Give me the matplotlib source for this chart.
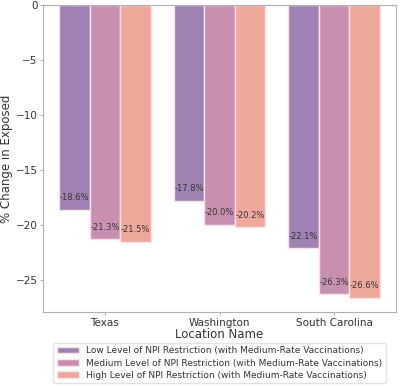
import matplotlib
matplotlib.use('Agg')
import matplotlib.pyplot as plt
import numpy as np

locations = ['Texas', 'Washington', 'South Carolina']
scenarios = ['Low Level of NPI Restriction (with Medium-Rate Vaccinations)',
             'Medium Level of NPI Restriction (with Medium-Rate Vaccinations)',
             'High Level of NPI Restriction (with Medium-Rate Vaccinations)']
low_npi = [-18.6, -17.8, -22.1]
medium_npi = [-21.3, -20.0, -26.3]
high_npi = [-21.5, -20.2, -26.6]
colors = ['#9f82b3', '#c98fb1', '#f0a89a']

fig = plt.figure(figsize=(4.0, 3.89), dpi=100)
ax = fig.add_axes([0.1075, 0.198, 0.8825, 0.789])

bar_width = 0.8 / 3
positions = np.arange(len(locations))
for i, (vals, label) in enumerate(zip([low_npi, medium_npi, high_npi], scenarios)):
    xs = positions + (i - 1) * bar_width
    ax.bar(xs, vals, width=bar_width, color=colors[i], edgecolor='#f7e4ea',
           linewidth=1.0, label=label)
    for x, v in zip(xs, vals):
        ax.text(x, v + 1.1, f'{v:.1f}%', ha='center', va='center',
                fontsize=6, color='#333333')

ax.set_xlim(-0.54, 2.54)
ax.set_ylim(-27.9, 0)
ax.set_yticks([0, -5, -10, -15, -20, -25])
ax.set_yticklabels(['0', '\u22125', '\u221210', '\u221215', '\u221220', '\u221225'])
ax.set_xticks(positions)
ax.set_xticklabels(locations)
ax.tick_params(labelsize=7.5, colors='#b0b0b0', labelcolor='#333333',
               length=2.5, pad=1.5)
for s in ax.spines.values():
    s.set_color('#b0b0b0')
ax.set_ylabel('% Change in Exposed', fontsize=8.5, color='#333333', labelpad=2)
ax.set_xlabel('Location Name', fontsize=8.5, color='#333333', labelpad=0)

leg = ax.legend(loc='upper center', bbox_to_anchor=(0.5, -0.086), fontsize=6.5,
                frameon=True, handlelength=2.5, labelspacing=0.35,
                borderpad=0.4)
leg.get_frame().set_edgecolor('#dddddd')
for t in leg.get_texts():
    t.set_color('#333333')

fig.savefig('out.png', dpi=100)
